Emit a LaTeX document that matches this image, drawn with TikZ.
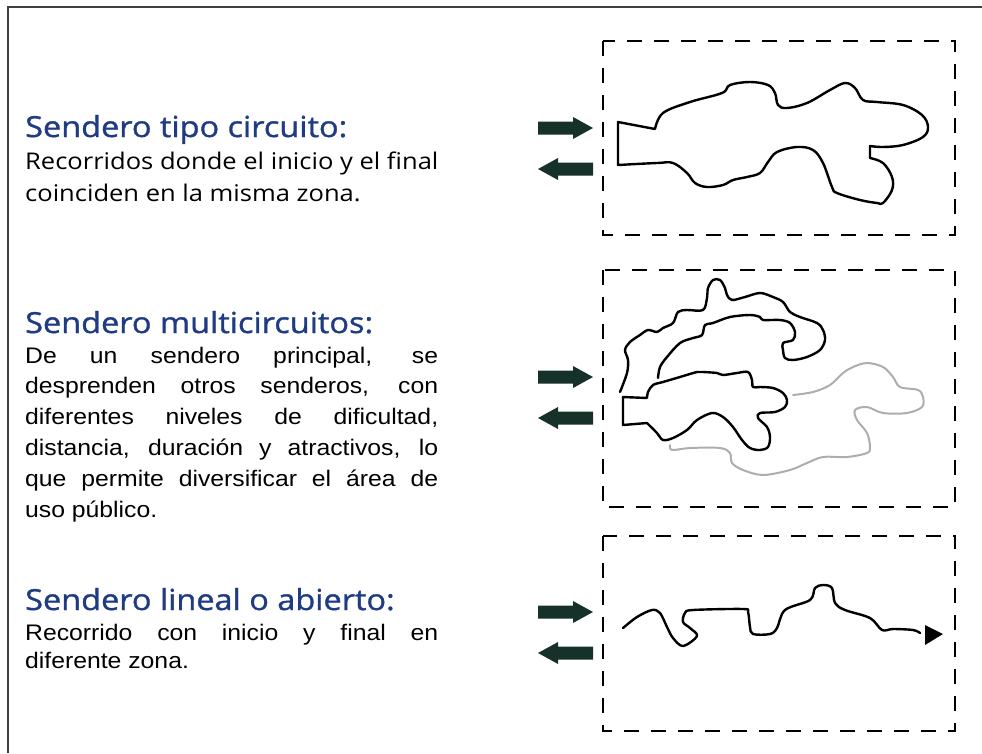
\documentclass[tikz,border=0pt]{standalone}
\usepackage{fontspec}
\setmainfont{Liberation Sans}[FakeStretch=1.1]
\newfontfamily\humfont{Open Sans}[FakeStretch=1.11]
\newfontfamily\headfont{Open Sans}[FakeBold=1.2, FakeStretch=1.12]
\definecolor{titleblue}{HTML}{1F3B82}
\definecolor{arrowdark}{HTML}{16302A}
\tikzset{
  titletext/.style={anchor=base west, inner sep=0pt, text=titleblue, font=\headfont\fontsize{29}{33}\selectfont},
  bodytext/.style={anchor=base west, inner sep=0pt, text=black},
  zonebox/.style={draw=black, line width=2.8pt, dash pattern=on 15pt off 12pt},
  trail/.style={draw=black, line width=2.4pt, line join=round, line cap=round},
  graytrail/.style={draw=black!32, line width=2pt, line join=round, line cap=round},
  arrowfill/.style={fill=arrowdark},
  frameline/.style={draw=black!75, line width=2pt}
}
\newcommand{\rarrow}[2]{\fill[arrowfill, shift={(#1,#2)}] (0,-6.5) -- (35,-6.5) -- (35,-11) -- (55,0) -- (35,11) -- (35,6.5) -- (0,6.5) -- cycle;}
\newcommand{\larrow}[2]{\fill[arrowfill, shift={(#1,#2)}] (55,-6.5) -- (20,-6.5) -- (20,-11) -- (0,0) -- (20,11) -- (20,6.5) -- (55,6.5) -- cycle;}
\begin{document}
\begin{tikzpicture}[x=1pt,y=-1pt]
\useasboundingbox (0,0) rectangle (982,753);
% outer frame
\draw[frameline] (8,753) -- (8,7) -- (982,7);

% ---- texts
\node[titletext] (t1) at (25,137) {Sendero tipo circuito:};
\node[bodytext] (b1) at (25,169) {\parbox[t]{440pt}{\humfont\fontsize{23}{32}\selectfont
Recorridos donde el inicio y el final\\
coinciden en la misma zona.}};

\node[titletext] (t2) at (25,333) {Sendero multicircuitos:};
\node[bodytext] (b2) at (25,363) {\parbox[t]{413pt}{\fontsize{22.5}{30.8}\selectfont
\makebox[413pt][s]{De un sendero principal, se}\\
\makebox[413pt][s]{desprenden otros senderos, con}\\
\makebox[413pt][s]{diferentes niveles de dificultad,}\\
\makebox[413pt][s]{distancia, duración y atractivos, lo}\\
\makebox[413pt][s]{que permite diversificar el área de}\\
uso público.}};

\node[titletext] (t3) at (25,610) {Sendero lineal o abierto:};
\node[bodytext] (b3) at (25,640) {\parbox[t]{413pt}{\fontsize{22.5}{28.5}\selectfont
\makebox[413pt][s]{Recorrido con inicio y final en}\\
diferente zona.}};

% ---- dashed boxes
\draw[zonebox] (603,41) rectangle (955,235);
\draw[zonebox] (603,270) rectangle (955,507);
\draw[zonebox] (603,536) rectangle (955,731);

% ---- arrows
\rarrow{538}{128}
\larrow{538}{169}
\rarrow{538}{377}
\larrow{538}{418}
\rarrow{538}{612}
\larrow{538}{653}

% ---- box 1: circuit
\draw[trail] (618,122) -- plot[smooth, tension=0.6] coordinates {(655,129) (663,113) (690,102) (722,93) (730,85) (750,82) (768,85) (775,93) (778,105) (787,108) (807,103) (830,90) (845,83) (855,88) (863,100) (877,102) (903,105) (922,115) (928,127) (923,137) (903,145) (883,147) (870,146)}
 -- plot[smooth, tension=0.6] coordinates {(870,158) (883,163) (892,177) (892,190) (883,203) (877,203) (860,200) (837,193) (832,187) (823,163) (813,150) (797,147) (777,152) (768,162) (760,173) (747,177) (733,180) (723,185) (707,187) (695,183) (687,173) (673,163) (657,163) (618,165)} -- cycle;

% ---- box 2: multicircuit
\draw[trail] plot[smooth, tension=0.55] coordinates {(620,392) (627,373) (628,360) (625,350) (630,342) (640,335) (648,330) (657,332) (663,328) (673,323) (678,312) (687,310) (703,310) (707,298) (708,288) (713,280) (720,280) (725,288) (727,295) (732,300) (745,297) (760,293) (773,297) (783,302) (790,312) (800,317) (817,323) (823,330) (825,340) (820,350) (807,357) (793,360) (785,358) (783,350) (783,343) (793,340) (795,332) (790,323) (780,320) (763,320) (760,317) (750,315) (730,317) (713,323) (705,325) (702,335) (693,338) (680,343) (667,357) (660,367) (658,378)};
\draw[trail] (623,397) -- plot[smooth, tension=0.55] coordinates {(647,398) (648,392) (653,385) (663,382) (680,377) (697,372) (703,372) (717,373) (723,375) (737,373) (748,372) (752,380) (753,387) (760,387) (773,388) (783,393) (787,400) (785,407) (775,412) (760,413) (758,418) (767,427) (770,437) (768,447) (760,450) (750,448) (742,440) (733,427) (723,417) (712,413) (697,420) (687,430) (673,438) (663,440) (657,433) (647,423)} -- (623,425) -- cycle;
\draw[graytrail] plot[smooth, tension=0.55] coordinates {(793,395) (813,392) (830,385) (843,373) (853,367) (867,363) (883,367) (893,377) (900,387) (918,390) (923,397) (922,407) (907,413) (883,413) (867,407) (855,410) (857,420) (867,433) (870,447) (867,453) (847,457) (823,457) (807,463) (790,470) (763,475) (743,470) (732,463) (730,453) (720,448) (690,448) (672,450) (670,445)};

% ---- box 3: linear
\draw[trail] plot[smooth, tension=0.55] coordinates {(623,628) (637,617) (652,610) (660,613) (667,627) (673,638) (683,646) (697,636) (690,628) (683,622) (685,613) (693,610) (743,609) (748,612) (750,627) (753,634) (770,634) (777,628) (785,610) (810,600) (815,588) (823,585) (832,588) (835,603) (845,610) (870,618) (882,630) (893,629) (913,630) (920,633)};
\fill[black] (925,625) -- (943,634) -- (925,645) -- cycle;
\end{tikzpicture}
\end{document}
